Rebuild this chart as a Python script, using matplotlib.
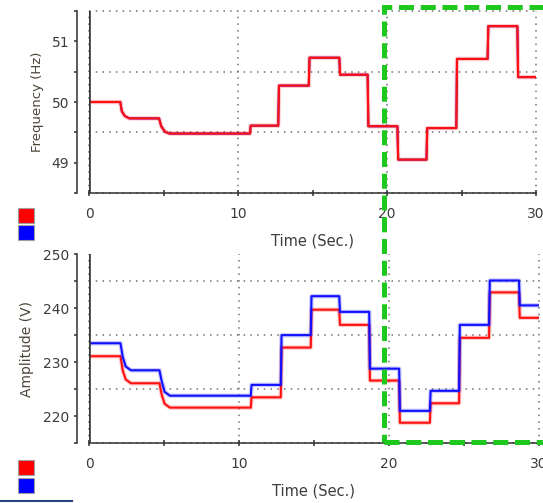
import numpy as np
import matplotlib
matplotlib.use("Agg")
import matplotlib.pyplot as plt
from matplotlib.patches import Rectangle
from matplotlib.ticker import MultipleLocator

# ----- Datos ------------------------------------------------------------------
freq_t = [0, 2.1, 2.2, 2.4, 2.7, 4.7, 4.85, 5.1, 5.4, 10.8, 10.85, 12.7, 12.75,
          14.75, 14.8, 16.8, 16.85, 18.7, 18.75, 20.7, 20.75, 22.65, 22.7,
          24.65, 24.7, 26.75, 26.8, 28.75, 28.8, 30]
freq_f = [50.0, 50.0, 49.85, 49.77, 49.73, 49.73, 49.6, 49.51, 49.48, 49.48,
          49.61, 49.61, 50.27, 50.27, 50.73, 50.73, 50.45, 50.45, 49.6, 49.6,
          49.05, 49.05, 49.57, 49.57, 50.71, 50.71, 51.25, 51.25, 50.41, 50.41]

amp_t = [0, 2.1, 2.25, 2.45, 2.8, 4.7, 4.85, 5.05, 5.4, 10.8, 10.85, 12.8,
         12.85, 14.8, 14.85, 16.7, 16.75, 18.7, 18.75, 20.7, 20.75, 22.75,
         22.8, 24.7, 24.75, 26.7, 26.75, 28.7, 28.75, 30]
amp_blue = [233.5, 233.5, 231.0, 229.2, 228.5, 228.5, 226.5, 224.5, 223.8,
            223.8, 225.8, 225.8, 235.0, 235.0, 242.2, 242.2, 239.3, 239.3,
            228.8, 228.8, 221.0, 221.0, 224.7, 224.7, 236.9, 236.9, 245.1,
            245.1, 240.5, 240.5]
amp_red = [231.1, 231.1, 228.5, 226.8, 226.1, 226.1, 224.0, 222.3, 221.6,
           221.6, 223.5, 223.5, 232.7, 232.7, 239.7, 239.7, 236.9, 236.9,
           226.6, 226.6, 218.8, 218.8, 222.4, 222.4, 234.5, 234.5, 242.9,
           242.9, 238.2, 238.2]
# ------------------------------------------------------------------------------

W, H = 543, 503
RED, BLUE = "#ff1010", "#1010ff"
TXT = "#3c3c3c"
DOTS = (0, (1, 3.4))


def px_box(x0, y0, x1, y1):
    return [x0 / W, 1 - y1 / H, (x1 - x0) / W, (y1 - y0) / H]


def trace(ax, t, v, color, halo=True):
    if halo:
        ax.plot(t, v, color=color, lw=3.2, alpha=0.22)
    ax.plot(t, v, color=color, lw=1.5)


def setup(ax, ylim, ymajor, yminor, ylabel, yl_x, yl_size):
    ax.set_xlim(0, 30)
    ax.set_ylim(*ylim)
    ax.xaxis.set_major_locator(MultipleLocator(10))
    ax.xaxis.set_minor_locator(MultipleLocator(5))
    ax.yaxis.set_major_locator(MultipleLocator(ymajor))
    ax.yaxis.set_minor_locator(MultipleLocator(yminor))
    for s in ("top", "right"):
        ax.spines[s].set_visible(False)
    ax.spines["left"].set_position(("outward", 8.6))
    for s in ("left", "bottom"):
        ax.spines[s].set_color("#303030")
        ax.spines[s].set_linewidth(1.1)
    ax.axvline(0, color="#3a3a3a", lw=1.9, zorder=4)
    ax.grid(axis="x", which="major", ls=DOTS, lw=1.1, color="#707070")
    ax.grid(axis="y", which="minor", ls=DOTS, lw=1.1, color="#707070")
    ax.tick_params(axis="x", which="both", direction="inout", length=4.3,
                   width=1.1, color="#303030", labelcolor=TXT, labelsize=10,
                   pad=8)
    ax.tick_params(axis="y", which="both", direction="out", length=2.5,
                   width=1.1, color="#303030", labelcolor=TXT, labelsize=10,
                   pad=3)
    ax.set_xlabel("Time (Sec.)", fontsize=10.5, color=TXT, labelpad=9)
    ax.set_ylabel(ylabel, fontsize=yl_size, color="#4a4538")
    ax.yaxis.set_label_coords(yl_x, 0.5)
    # que las líneas de grilla en los bordes se vean enteras
    for tk in ax.xaxis.get_major_ticks() + ax.yaxis.get_minor_ticks():
        tk.gridline.set_clip_on(False)


fig = plt.figure(figsize=(W / 100, H / 100), dpi=100)

ax1 = fig.add_axes(px_box(89, 11, 536, 193))
trace(ax1, freq_t, freq_f, BLUE, halo=False)
trace(ax1, freq_t, freq_f, RED)
setup(ax1, (48.5, 51.5), 1, 0.5, "Frequency (Hz)", (44 - 89) / 447, 9.5)

ax2 = fig.add_axes(px_box(89, 254, 538.5, 443.3))
trace(ax2, amp_t, amp_red, RED)
trace(ax2, amp_t, amp_blue, BLUE)
setup(ax2, (215, 250), 10, 5, "Amplitude (V)", (34 - 89) / 449.5, 10)

# cuadritos de leyenda
for y0, c in [(208, "#ff0000"), (225, "#0000ff"), (460, "#ff0000"), (478, "#0000ff")]:
    fig.add_artist(Rectangle((18 / W, 1 - (y0 + 15) / H), 16 / W, 15 / H,
                             transform=fig.transFigure, facecolor=c,
                             edgecolor="#a0a0a0", lw=0.8))

fig.add_artist(plt.Line2D([0, 72 / W], [1 - 501 / H] * 2, color="#27407a",
                          lw=1.5, transform=fig.transFigure))

# recuadro verde punteado
fig.add_artist(Rectangle((383.5 / W, 1 - 442.3 / H), 200 / W, (442.3 - 6.7) / H,
                         transform=fig.transFigure, fill=False,
                         edgecolor="#1ec81e", lw=3.6, ls=(0, (3, 1.35)),
                         zorder=10))

fig.savefig("out.png", dpi=100)
